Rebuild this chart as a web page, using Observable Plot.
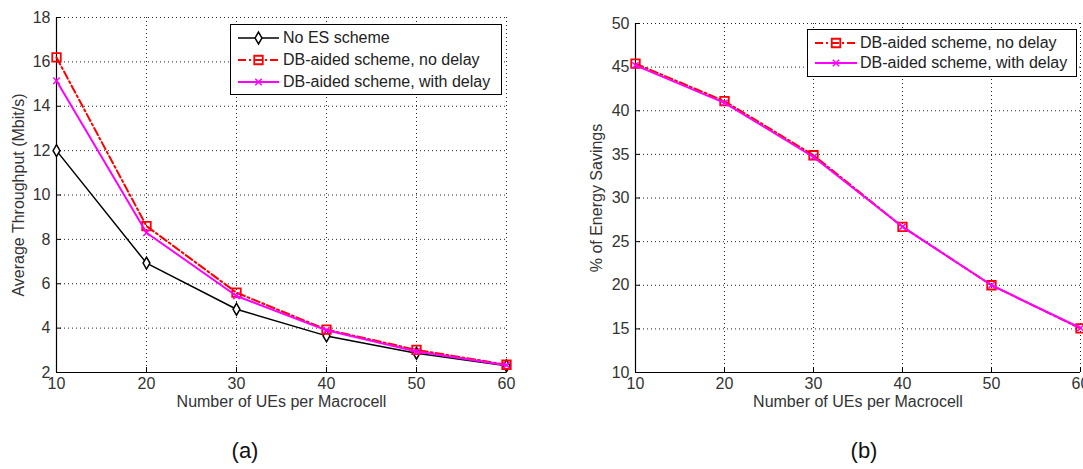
<!DOCTYPE html>
<html>
<head>
<meta charset="utf-8">
<script src="https://cdn.jsdelivr.net/npm/d3@7"></script>
<script src="https://cdn.jsdelivr.net/npm/@observablehq/plot@0.6"></script>
<style>
  html, body { margin: 0; padding: 0; background: #fff; }
  body { position: relative; width: 1083px; height: 469px; overflow: hidden; font-family: "Liberation Sans", Arial, sans-serif; }
  .panel { position: absolute; top: 0; }
  .legend { position: absolute; box-sizing: border-box; border: 1px solid #000; background: #fff; font-size: 16px; color: #222; }
  .legend .row { position: relative; white-space: nowrap; }
  .legend .row svg { position: absolute; top: 0; }
  .legend .row span { position: absolute; top: 0; }
  .caption { position: absolute; font-size: 22px; color: #111; transform: translate(-50%, -50%); white-space: nowrap; }
</style>
</head>
<body>
<div id="pa" class="panel" style="left:0px"></div>
<div id="pb" class="panel" style="left:560px"></div>
<script>
// ---------- data ----------
const ues = [10, 20, 30, 40, 50, 60];
const xTicks = [10, 20, 30, 40, 50, 60];

// (a) Average throughput (Mbit/s)
const thrNoES = [12.0, 6.93, 4.85, 3.65, 2.87, 2.3];
const thrNoDelay = [16.2, 8.6, 5.6, 3.93, 3.02, 2.35];
const thrWithDelay = [15.15, 8.3, 5.45, 3.9, 2.95, 2.33];
const yTicksA = [2, 4, 6, 8, 10, 12, 14, 16, 18];

// (b) % of energy savings
const esNoDelay = [45.4, 41.1, 34.9, 26.7, 20.0, 15.05];
const esWithDelay = [45.2, 40.9, 34.7, 26.7, 20.0, 15.1];
const yTicksB = [10, 15, 20, 25, 30, 35, 40, 45, 50];

const seriesNames = ["No ES scheme", "DB-aided scheme, no delay", "DB-aided scheme, with delay"];
const xLabel = "Number of UEs per Macrocell";
const yLabelA = "Average Throughput (Mbit/s)";
const yLabelB = "% of Energy Savings";
const captions = ["(a)", "(b)"];

// ---------- styles ----------
const styleBy = {
  [seriesNames[0]]: {stroke: "#000000", strokeWidth: 1.5, dash: null, symbol: "diamond", r: 3.6, fill: "white", mw: 1.5},
  [seriesNames[1]]: {stroke: "#ff0000", strokeWidth: 2, dash: "8,3,2,3", symbol: "square", r: 4.8, fill: "none", mw: 1.8},
  [seriesNames[2]]: {stroke: "#ff00ff", strokeWidth: 2, dash: null, symbol: "times", r: 3, fill: "none", mw: 1.5}
};

function toRows(name, vals) { return ues.map((x, i) => ({x, y: vals[i], s: name})); }

function seriesMarks(rows) {
  const st = styleBy[rows[0].s];
  return [
    Plot.line(rows, {x: "x", y: "y", stroke: st.stroke, strokeWidth: st.strokeWidth, strokeDasharray: st.dash ?? undefined}),
    Plot.dot(rows, {x: "x", y: "y", symbol: () => st.symbol, r: st.r, stroke: st.stroke, fill: st.fill, strokeWidth: st.mw})
  ];
}

function makePanel({width, height, mL, mR, mT, mB, yDomain, yTicks, yLabel, series, yLabelDx}) {
  const plotW = width - mL - mR, plotH = height - mT - mB;
  const grid = {stroke: "#000", strokeOpacity: 0.85, strokeWidth: 1, strokeDasharray: "1,3"};
  return Plot.plot({
    width, height,
    marginLeft: mL, marginRight: mR, marginTop: mT, marginBottom: mB,
    x: {domain: [10, 60], ticks: xTicks},
    y: {domain: yDomain, ticks: yTicks},
    style: {fontFamily: "'Liberation Sans', Arial, sans-serif", fontSize: "16px", color: "#333", background: "white"},
    marks: [
      Plot.gridX(xTicks, grid),
      Plot.gridY(yTicks, grid),
      Plot.tickX(xTicks, {x: d => d, stroke: "#000", insetTop: plotH - 5}),
      Plot.tickY(yTicks, {y: d => d, stroke: "#000", insetRight: plotW - 5}),
      Plot.ruleX([10], {stroke: "#000", strokeWidth: 1.2}),
      Plot.ruleY([yDomain[0]], {stroke: "#000", strokeWidth: 1.2}),
      Plot.axisX(xTicks, {tickSize: 0, tickPadding: 5, label: null, fill: "#333"}),
      Plot.axisY(yTicks, {tickSize: 0, tickPadding: 6, label: null, fill: "#333"}),
      Plot.text([xLabel], {frameAnchor: "bottom", textAnchor: "middle", dy: 34, fill: "#333", fontSize: 16}),
      Plot.text([yLabel], {frameAnchor: "left", textAnchor: "middle", rotate: -90, dx: yLabelDx, fill: "#333", fontSize: 16}),
      ...series.flatMap(seriesMarks)
    ]
  });
}

const panelA = makePanel({
  width: 540, height: 420, mL: 56, mR: 34, mT: 17, mB: 48,
  yDomain: [2, 18], yTicks: yTicksA, yLabel: yLabelA, yLabelDx: -38,
  series: [toRows(seriesNames[0], thrNoES), toRows(seriesNames[1], thrNoDelay), toRows(seriesNames[2], thrWithDelay)]
});
document.getElementById("pa").appendChild(panelA);

const panelB = makePanel({
  width: 523, height: 420, mL: 75, mR: 3, mT: 23, mB: 48,
  yDomain: [10, 50], yTicks: yTicksB, yLabel: yLabelB, yLabelDx: -39,
  series: [toRows(seriesNames[1], esNoDelay), toRows(seriesNames[2], esWithDelay)]
});
document.getElementById("pb").appendChild(panelB);

// ---------- legends (HTML overlays) ----------
function makeLegend({left, top, width, height, names, rowH, padTop, swX, swW, textX}) {
  const box = document.createElement("div");
  box.className = "legend";
  Object.assign(box.style, {left: left + "px", top: top + "px", width: width + "px", height: height + "px"});
  names.forEach((name, i) => {
    const st = styleBy[name];
    const row = document.createElement("div");
    row.className = "row";
    Object.assign(row.style, {position: "absolute", left: "0px", top: (padTop + i * rowH) + "px", height: rowH + "px", width: "100%"});
    const svg = d3.create("svg").attr("width", swW).attr("height", rowH).style("left", swX + "px");
    svg.append("line").attr("x1", 0).attr("x2", swW).attr("y1", rowH / 2).attr("y2", rowH / 2)
      .attr("stroke", st.stroke).attr("stroke-width", st.strokeWidth).attr("stroke-dasharray", st.dash);
    const symMap = {diamond: d3.symbolDiamond, square: d3.symbolSquare, times: d3.symbolTimes};
    svg.append("path").attr("transform", `translate(${swW / 2},${rowH / 2})`)
      .attr("d", d3.symbol(symMap[st.symbol], Math.PI * st.r * st.r)())
      .attr("fill", st.fill).attr("stroke", st.stroke).attr("stroke-width", st.mw);
    row.appendChild(svg.node());
    const span = document.createElement("span");
    span.textContent = name;
    Object.assign(span.style, {left: textX + "px", lineHeight: rowH + "px"});
    row.appendChild(span);
    box.appendChild(row);
  });
  document.body.appendChild(box);
}

makeLegend({left: 230, top: 24, width: 272, height: 71, names: seriesNames, rowH: 22, padTop: 2, swX: 7, swW: 41, textX: 52});
makeLegend({left: 807, top: 29, width: 270, height: 48, names: [seriesNames[1], seriesNames[2]], rowH: 20, padTop: 3, swX: 7, swW: 42, textX: 52});

// ---------- captions ----------
[[captions[0], 245, 451], [captions[1], 864, 451]].forEach(([t, x, y]) => {
  const c = document.createElement("div");
  c.className = "caption";
  c.textContent = t;
  Object.assign(c.style, {left: x + "px", top: y + "px"});
  document.body.appendChild(c);
});
</script>
</body>
</html>
